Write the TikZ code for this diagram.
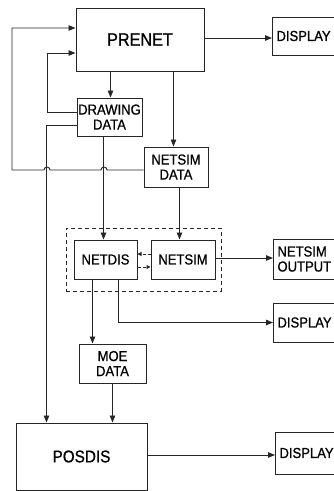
\documentclass[tikz,border=0pt]{standalone}
\usepackage{fontspec}
\setmainfont{Liberation Sans}[FakeBold=0.8, FakeStretch=0.9]
\usetikzlibrary{arrows.meta}
\begin{document}
\begin{tikzpicture}[x=1pt,y=1pt,
  line width=0.9pt,
  box/.style={draw=black!85, line width=1pt, inner sep=0pt, align=center,
    font=\fontsize{14.5}{15}\selectfont},
  disp/.style={box, anchor=west, text width=62pt, inner xsep=4pt, align=left},
  conn/.style={draw=black!85, line width=0.9pt},
  arr/.style={conn, -{Triangle[length=7pt,width=5.5pt]}},
  sarr/.style={conn, -{Triangle[length=4pt,width=4pt]}, dash pattern=on 3pt off 2pt}]
\useasboundingbox (0,0) rectangle (333,-491);
% nodes
\node[box, minimum width=128, minimum height=63, font=\fontsize{18}{18}\selectfont] (prenet) at (140,-39.5) {PRENET};
\node[disp, minimum height=38] (d1) at (272,-36) {DISPLAY};
\node[box, minimum width=65, minimum height=38] (drawd) at (109.5,-117) {DRAWING\\DATA};
\node[box, minimum width=64, minimum height=40] (nsd) at (176,-167) {NETSIM\\DATA};
\node[draw=black!85, line width=1pt, dash pattern=on 4pt off 3pt, inner sep=0pt, minimum width=155, minimum height=63] (group) at (143.5,-259.5) {};
\node[box, minimum width=63, minimum height=39] (netdis) at (105.5,-259.5) {NETDIS};
\node[box, minimum width=64, minimum height=39] (netsim) at (183,-259.5) {NETSIM};
\node[disp, minimum height=40] (nso) at (273,-259) {NETSIM\\OUTPUT};
\node[disp, minimum height=39] (d2) at (273,-322.5) {DISPLAY};
\node[box, minimum width=67, minimum height=39] (moe) at (112.5,-363.5) {MOE\\DATA};
\node[box, minimum width=131, minimum height=67, font=\fontsize{17}{17}\selectfont] (posdis) at (81.5,-456.5) {POSDIS};
\node[disp, minimum height=42] (d3) at (275,-453) {DISPLAY};
% connectors
\draw[arr] ([yshift=1.5pt]prenet.east) -- ([yshift=1.5pt]prenet.east -| d1.west);
\draw[arr] ([yshift=-3pt]nsd.west) -- (107,-170) arc[start angle=0,end angle=180,radius=3]
  -- (50,-170) arc[start angle=0,end angle=180,radius=3] -- (12,-170) -- (12,-28)
  -- ([yshift=11.5pt]prenet.west);
\draw[arr] ([yshift=5pt]drawd.west) -- (47,-112) -- (47,-53) -- ([yshift=-13.5pt]prenet.west);
\draw[arr] ([yshift=-8pt]drawd.west) -| ([xshift=31pt]posdis.north west);
\draw[arr] ([xshift=35pt]prenet.south west) -- ([xshift=35pt]prenet.south west |- drawd.north);
\draw[arr] ([xshift=98pt]prenet.south west) -- ([xshift=98pt]prenet.south west |- nsd.north);
\draw[arr] ([xshift=27pt]drawd.south west) -- ([xshift=27pt]drawd.south west |- netdis.north);
\draw[arr] ([xshift=36pt]nsd.south west) -- ([xshift=36pt]nsd.south west |- netsim.north);
\draw[sarr] ([yshift=5.5pt]netsim.west) -- ([yshift=5.5pt]netdis.east);
\draw[sarr] ([yshift=-7.5pt]netdis.east) -- ([yshift=-7.5pt]netsim.west);
\draw[arr] ([yshift=1.5pt]netsim.east) -- ([yshift=1.5pt]netsim.east -| nso.west);
\draw[arr] ([xshift=19pt]netdis.south west) -- ([xshift=19pt]netdis.south west |- moe.north);
\draw[arr] ([xshift=45pt]netdis.south west) |- (d2.west);
\draw[arr] ([xshift=34pt]moe.south west) -- ([xshift=34pt]moe.south west |- posdis.north);
\draw[arr] ([yshift=1.5pt]posdis.east) -- ([yshift=1.5pt]posdis.east -| d3.west);
\end{tikzpicture}
\end{document}
